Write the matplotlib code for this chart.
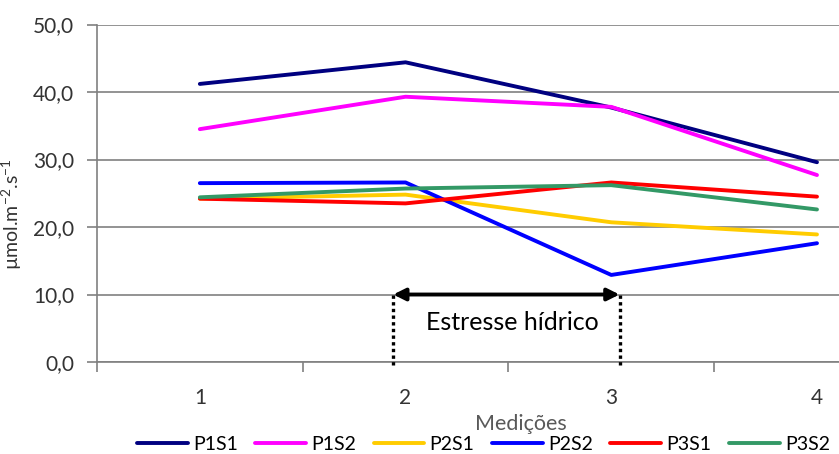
import matplotlib
matplotlib.use("Agg")
import matplotlib.pyplot as plt

plt.rcParams['font.family'] = ['Lato', 'DejaVu Sans']
plt.rcParams['mathtext.fontset'] = 'custom'
plt.rcParams['mathtext.rm'] = 'Lato'
plt.rcParams['mathtext.it'] = 'Lato'
plt.rcParams['mathtext.default'] = 'regular'

categories = [1, 2, 3, 4]
tick_labels = ['1', '2', '3', '4']
series_names = ['P1S1', 'P1S2', 'P2S1', 'P2S2', 'P3S1', 'P3S2']
P1S1 = [41.2, 44.4, 37.7, 29.6]
P1S2 = [34.5, 39.3, 37.8, 27.7]
P2S1 = [24.2, 24.8, 20.7, 18.9]
P2S2 = [26.5, 26.6, 12.9, 17.6]
P3S1 = [24.2, 23.5, 26.6, 24.5]
P3S2 = [24.4, 25.7, 26.2, 22.6]
series_values = [P1S1, P1S2, P2S1, P2S2, P3S1, P3S2]
colors = ['#000080', '#FF00FF', '#FFCC00', '#0000FF', '#FF0000', '#339966']
y_ticks = [0, 10, 20, 30, 40, 50]
y_tick_labels = ['0,0', '10,0', '20,0', '30,0', '40,0', '50,0']
stress_start, stress_end, stress_level = 1.94, 3.04, 10

fig = plt.figure(figsize=(8.39, 4.54), dpi=100)
ax = fig.add_axes([0.1156, 0.2026, 0.8844, 0.7434])

grid_c = '#808080'
for yv in y_ticks:
    ax.axhline(yv, color=grid_c, lw=1.2, zorder=1)

for name, vals, c in zip(series_names, series_values, colors):
    ax.plot(categories, vals, color=c, lw=2.8, label=name, zorder=3,
            solid_capstyle='round', solid_joinstyle='round')

ax.set_xlim(0.5, 4.107)
ax.set_ylim(0, 50)
ax.set_yticks(y_ticks)
ax.set_yticklabels(y_tick_labels, fontsize=15, color='#333333')
ax.set_xticks(categories)
ax.set_xticklabels(tick_labels, fontsize=15, color='#333333')
ax.tick_params(axis='x', which='major', length=0, pad=19)
ax.set_xticks([0.5, 1.5, 2.5, 3.5], minor=True)
ax.tick_params(axis='x', which='minor', length=7, width=1.2, color=grid_c)
ax.tick_params(axis='y', length=7, width=1.2, color=grid_c, pad=9.5)

for s in ['top', 'right']:
    ax.spines[s].set_visible(False)
for s in ['left', 'bottom']:
    ax.spines[s].set_color(grid_c)
    ax.spines[s].set_linewidth(1.2)

ax.set_xlabel('Medições', fontsize=15.5, color='#595959')
ax.xaxis.set_label_coords(0.571, -0.153)
ax.set_ylabel(r'µmol.m$^{-2}$.s$^{-1}$', fontsize=14, color='#333333')
ax.yaxis.set_label_coords(-0.098, 0.4385)

ax.annotate('', xy=(stress_start, stress_level), xytext=(stress_end, stress_level),
            arrowprops=dict(arrowstyle='<|-|>', color='black', lw=2.8,
                            mutation_scale=18, shrinkA=0, shrinkB=0), zorder=5)
for xv in [stress_start, stress_end]:
    ax.plot([xv, xv], [stress_level, -0.9], color='black', lw=2.4,
            linestyle=(0, (1, 1)), clip_on=False, zorder=5)
ax.text(2.52, 5.9, 'Estresse hídrico', fontsize=18,
        ha='center', va='center', color='black', zorder=5)

fig.legend(loc='center', bbox_to_anchor=(0.576, 0.021), ncol=6, frameon=False,
           fontsize=14, handlelength=2.62, handletextpad=0.26, columnspacing=0.9,
           borderpad=0.1)

fig.savefig('out.png', dpi=100, facecolor='white')
